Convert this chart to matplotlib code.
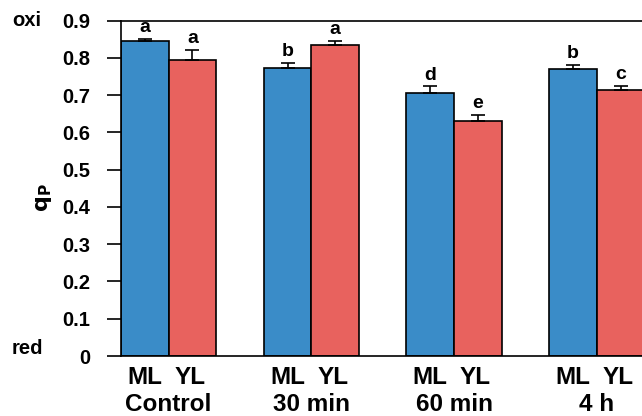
import numpy as np
import matplotlib.pyplot as plt

# values
groups = ["Control", "30 min", "60 min", "4 h"]
ml_values = [0.846, 0.772, 0.705, 0.769]
yl_values = [0.793, 0.833, 0.630, 0.714]
ml_errors = [0.004, 0.015, 0.018, 0.011]
yl_errors = [0.028, 0.013, 0.016, 0.010]
ml_letters = ["a", "b", "d", "b"]
yl_letters = ["a", "a", "e", "c"]
y_ticks = [0, 0.1, 0.2, 0.3, 0.4, 0.5, 0.6, 0.7, 0.8, 0.9]

BLUE = "#3a8cc8"
RED = "#e8625e"
BAR_FONT = ["Liberation Sans", "DejaVu Sans"]
TICK_FONT = ["Liberation Sans", "DejaVu Sans"]


def main():
    fig = plt.figure(figsize=(6.42, 4.16), dpi=100)
    ax = fig.add_axes([121 / 642, 1 - 356 / 416, 521 / 642, 335.5 / 416])

    # each group takes 3 bar widths: ML, YL, gap
    ml_x = np.arange(len(groups)) * 3 + 0.5
    yl_x = ml_x + 1

    ax.bar(ml_x, ml_values, width=1.0, color=BLUE, edgecolor="black",
           linewidth=1.2, zorder=2)
    ax.bar(yl_x, yl_values, width=1.0, color=RED, edgecolor="black",
           linewidth=1.2, zorder=2)
    zeros = [0] * len(groups)
    ax.errorbar(ml_x, ml_values, yerr=[zeros, ml_errors], fmt="none",
                ecolor="black", elinewidth=1.2, capsize=5, capthick=1.2,
                zorder=3)
    ax.errorbar(yl_x, yl_values, yerr=[zeros, yl_errors], fmt="none",
                ecolor="black", elinewidth=1.2, capsize=5, capthick=1.2,
                zorder=3)

    # significance letters above the error caps
    for x, v, e, t in zip(ml_x, ml_values, ml_errors, ml_letters):
        ax.annotate(t, (x, v + e), xytext=(0, 2), textcoords="offset points",
                    ha="center", va="bottom", fontsize=14, fontweight="bold",
                    family=BAR_FONT)
    for x, v, e, t in zip(yl_x, yl_values, yl_errors, yl_letters):
        ax.annotate(t, (x, v + e), xytext=(0, 2), textcoords="offset points",
                    ha="center", va="bottom", fontsize=14, fontweight="bold",
                    family=BAR_FONT)

    ax.set_xlim(0, 10.95)
    ax.set_ylim(0, 0.9)
    ax.set_yticks(y_ticks)
    ax.set_yticklabels([f"{t:g}" for t in y_ticks], fontsize=14.5,
                       fontweight="bold", family=TICK_FONT)
    ax.tick_params(axis="y", direction="out", length=10, width=1.2, pad=12)
    ax.set_xticks([])
    ax.spines["right"].set_visible(False)
    for side in ["left", "bottom", "top"]:
        ax.spines[side].set_linewidth(1.2)

    # x labels: ML / YL under each bar and the group name below
    trans = ax.get_xaxis_transform()
    for i, g in enumerate(groups):
        ax.text(ml_x[i], -0.063, "ML", transform=trans, ha="center",
                va="center", fontsize=17.5, fontweight="bold",
                family=BAR_FONT)
        ax.text(yl_x[i] - 0.05, -0.063, "YL", transform=trans, ha="center",
                va="center", fontsize=17.5, fontweight="bold",
                family=BAR_FONT)
        ax.text(ml_x[i] + 0.5, -0.146, g, transform=trans, ha="center",
                va="center", fontsize=17.5, fontweight="bold",
                family=BAR_FONT)

    fig.text(12 / 642, 1 - 20 / 416, "oxi", ha="left", va="center",
             fontsize=14.5, fontweight="bold", family=BAR_FONT)
    fig.text(12 / 642, 1 - 348 / 416, "red", ha="left", va="center",
             fontsize=14.5, fontweight="bold", family=BAR_FONT)
    fig.text(44 / 642, 1 - 198 / 416, r"$\mathbf{q_P}$", rotation=90,
             ha="center", va="center", fontsize=16)

    fig.savefig("out.png", dpi=100)


if __name__ == "__main__":
    main()
